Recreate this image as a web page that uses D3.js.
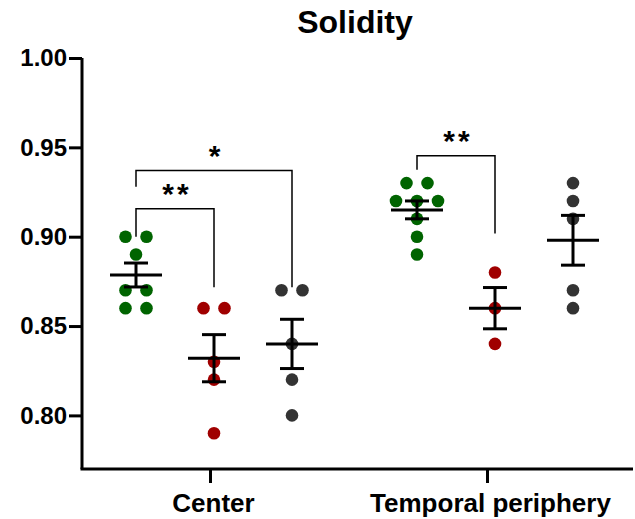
<!DOCTYPE html>
<html>
<head>
<meta charset="utf-8">
<script src="https://cdn.jsdelivr.net/npm/d3@7"></script>
<style>
  body { margin: 0; background: #fff; }
  svg { font-family: "Liberation Sans", Arial, sans-serif; }
</style>
</head>
<body>
<svg width="635" height="519"></svg>
<script>
// data
const categories = ["Center", "Temporal periphery"];
const groups = ["green", "red", "dark"];
const groupColors = ["#006400", "#a00000", "#333333"];

const centerGreen = [0.90, 0.90, 0.89, 0.87, 0.87, 0.86, 0.86];
const centerRed = [0.86, 0.86, 0.83, 0.82, 0.79];
const centerDark = [0.87, 0.87, 0.84, 0.82, 0.80];
const temporalGreen = [0.93, 0.93, 0.92, 0.92, 0.92, 0.91, 0.90, 0.89];
const temporalRed = [0.88, 0.86, 0.84];
const temporalDark = [0.93, 0.92, 0.91, 0.87, 0.86];

const yTicks = [0.80, 0.85, 0.90, 0.95, 1.00];

// significance brackets: category, from group, to group, label, top, left end, right end
const comparisons = [
  ["Center", 0, 1, "**", 0.9157, 0.900, 0.8717],
  ["Center", 0, 2, "*", 0.937, 0.928, 0.8717],
  ["Temporal periphery", 0, 1, "**", 0.9453, 0.9375, 0.9018]
];

const series = [
  [centerGreen, centerRed, centerDark],
  [temporalGreen, temporalRed, temporalDark]
];

const svg = d3.select("svg");

const y = d3.scaleLinear().domain([0.77, 1.0]).range([469, 58]);
const xCat = d3.scalePoint().domain(categories).range([210, 487]);
const xSub = d3.scalePoint().domain(d3.range(groups.length)).range([-72, 84]);

function gx(cat, gi) { return xCat(cat) + xSub(gi) + (cat === categories[0] ? -2 : 2); }

// title
svg.append("text")
  .attr("x", 355)
  .attr("y", 33)
  .attr("text-anchor", "middle")
  .style("font-size", "32px")
  .style("font-weight", "bold")
  .text("Solidity");

// y axis
const yAxis = svg.append("g")
  .attr("transform", "translate(82,0)")
  .call(d3.axisLeft(y).tickValues(yTicks).tickFormat(d3.format(".2f")).tickSize(13).tickSizeOuter(0).tickPadding(2));
yAxis.select(".domain").attr("d", "M0," + y(1.0) + "V" + y(0.77)).style("stroke-width", 3);
yAxis.selectAll(".tick line").style("stroke-width", 3);
yAxis.selectAll(".tick text")
  .style("font-size", "24px")
  .style("font-weight", "bold")
  .style("fill", "#000");

// x axis
const xAxis = svg.append("g")
  .attr("transform", "translate(0,469)")
  .call(d3.axisBottom(xCat).tickSize(14).tickPadding(11));
xAxis.select(".domain").attr("d", "M80.5,0H633").style("stroke-width", 3);
xAxis.selectAll(".tick line").style("stroke-width", 3);
xAxis.selectAll(".tick text")
  .attr("dx", 3)
  .style("font-size", "26px")
  .style("font-weight", "bold")
  .style("fill", "#000");

// dots, with ties spread sideways
const spacing = 21;
categories.forEach((cat, ci) => {
  series[ci].forEach((vals, gi) => {
    const counts = d3.rollup(vals, v => v.length, d => d);
    const seen = new Map();
    const pts = vals.map(v => {
      const n = counts.get(v);
      const k = seen.get(v) || 0;
      seen.set(v, k + 1);
      return { v: v, dx: (k - (n - 1) / 2) * spacing };
    });
    svg.append("g")
      .selectAll("circle")
      .data(pts)
      .join("circle")
      .attr("cx", d => gx(cat, gi) + d.dx)
      .attr("cy", d => y(d.v))
      .attr("r", 6.3)
      .style("fill", groupColors[gi]);
  });
});

// mean and SEM bars
categories.forEach((cat, ci) => {
  series[ci].forEach((vals, gi) => {
    const m = d3.mean(vals);
    const sem = d3.deviation(vals) / Math.sqrt(vals.length);
    const cx = gx(cat, gi);
    const g = svg.append("g").style("stroke", "#000").style("stroke-width", 3);
    g.append("line").attr("x1", cx - 26).attr("x2", cx + 26).attr("y1", y(m)).attr("y2", y(m));
    g.append("line").attr("x1", cx).attr("x2", cx).attr("y1", y(m - sem)).attr("y2", y(m + sem));
    g.append("line").attr("x1", cx - 12).attr("x2", cx + 12).attr("y1", y(m + sem)).attr("y2", y(m + sem));
    g.append("line").attr("x1", cx - 12).attr("x2", cx + 12).attr("y1", y(m - sem)).attr("y2", y(m - sem));
  });
});

// brackets
comparisons.forEach(c => {
  const x1 = gx(c[0], c[1]);
  const x2 = gx(c[0], c[2]);
  svg.append("path")
    .attr("d", "M" + x1 + "," + y(c[5]) + "V" + y(c[4]) + "H" + x2 + "V" + y(c[6]))
    .style("fill", "none")
    .style("stroke", "#000")
    .style("stroke-width", 1.5);
  svg.append("text")
    .attr("x", (x1 + x2) / 2 + 2)
    .attr("y", y(c[4]) - 5)
    .attr("text-anchor", "middle")
    .style("font-size", "30px")
    .style("font-weight", "bold")
    .style("letter-spacing", "3px")
    .text(c[3]);
});
</script>
</body>
</html>
